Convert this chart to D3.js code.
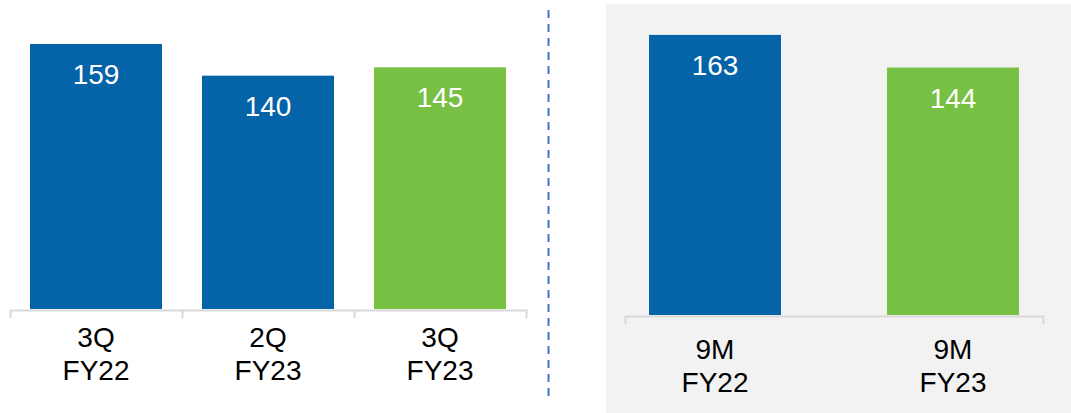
<!DOCTYPE html>
<html lang="en">
<head>
    <meta charset="UTF-8">
    <title>Quarterly and 9M comparison</title>
    <style>
        html, body {
            margin: 0;
            padding: 0;
            background-color: #FFFFFF;
            font-family: 'Liberation Sans', Arial, sans-serif;
        }
        svg { display: block; }
    </style>
</head>
<body>
    <div id="chart"></div>
    <script src="https://d3js.org/d3.v7.min.js"></script>
    <script>
        // DATA
        const quarterCats = ["3Q FY22", "2Q FY23", "3Q FY23"];
        const quarterValues = [159, 140, 145];
        const ytdCats = ["9M FY22", "9M FY23"];
        const ytdValues = [163, 144];

        const BLUE = "#0563A8";
        const GREEN = "#77C043";
        const AXIS = "#D9D9D9";

        const width = 1071, height = 413;

        const svg = d3.select("#chart")
            .append("svg")
            .attr("width", width)
            .attr("height", height);

        // GRAY PANEL BEHIND RIGHT CHART
        svg.append("rect")
            .attr("x", 606).attr("y", 4)
            .attr("width", width - 606).attr("height", height - 4)
            .attr("fill", "#F2F2F2");

        // DASHED DIVIDER
        svg.append("line")
            .attr("x1", 548.5).attr("x2", 548.5)
            .attr("y1", 10).attr("y2", 396)
            .attr("stroke", "#4472C4")
            .attr("stroke-width", 2)
            .attr("stroke-dasharray", "8,6");

        function drawPanel(opts) {
            const g = svg.append("g");

            const x = d3.scaleBand()
                .domain(opts.cats)
                .range(opts.bandRange)
                .paddingInner(opts.padding)
                .paddingOuter(opts.padding / 2);

            const y = d3.scaleLinear()
                .domain([0, opts.yMax])
                .range([opts.baseline, 0]);

            // AXIS (tick marks at category boundaries)
            const bounds = d3.scaleLinear()
                .domain([0, opts.tickCount])
                .range(opts.axisRange);
            const axis = d3.axisBottom(bounds)
                .tickValues(d3.range(1, opts.tickCount))
                .tickSizeInner(8)
                .tickSizeOuter(8)
                .tickFormat("");
            const ax = g.append("g")
                .attr("transform", `translate(0, ${opts.baseline + 1})`)
                .call(axis);
            ax.selectAll("path, line")
                .attr("stroke", AXIS)
                .attr("stroke-width", 2);

            // BARS
            g.selectAll("rect.bar")
                .data(opts.values)
                .enter()
                .append("rect")
                .attr("class", "bar")
                .attr("x", (d, i) => x(opts.cats[i]))
                .attr("y", d => y(d))
                .attr("width", x.bandwidth())
                .attr("height", d => opts.baseline - y(d))
                .attr("fill", (d, i) => opts.colors[i]);

            // VALUE LABELS
            g.selectAll("text.value")
                .data(opts.values)
                .enter()
                .append("text")
                .attr("class", "value")
                .attr("x", (d, i) => x(opts.cats[i]) + x.bandwidth() / 2)
                .attr("y", d => y(d) + 40)
                .attr("text-anchor", "middle")
                .attr("font-size", 28)
                .attr("fill", "#FFFFFF")
                .text(d => d);

            // CATEGORY LABELS (two lines)
            const lbl = g.selectAll("text.cat")
                .data(opts.cats)
                .enter()
                .append("text")
                .attr("class", "cat")
                .attr("text-anchor", "middle")
                .attr("font-size", 28)
                .attr("fill", "#000000");
            lbl.append("tspan")
                .attr("x", d => x(d) + x.bandwidth() / 2)
                .attr("y", opts.labelY)
                .text(d => d.split(" ")[0]);
            lbl.append("tspan")
                .attr("x", d => x(d) + x.bandwidth() / 2)
                .attr("y", opts.labelY + 33)
                .text(d => d.split(" ")[1]);
        }

        drawPanel({
            cats: quarterCats,
            values: quarterValues,
            colors: [BLUE, BLUE, GREEN],
            bandRange: [10, 526],
            padding: 40 / 172,
            axisRange: [10, 526],
            tickCount: 3,
            baseline: 309,
            yMax: 185.4,
            labelY: 347
        });

        drawPanel({
            cats: ytdCats,
            values: ytdValues,
            colors: [BLUE, GREEN],
            bandRange: [596, 1072],
            padding: 106 / 238,
            axisRange: [625, 1043],
            tickCount: 1,
            baseline: 315,
            yMax: 183.3,
            labelY: 359
        });
    </script>
</body>
</html>
